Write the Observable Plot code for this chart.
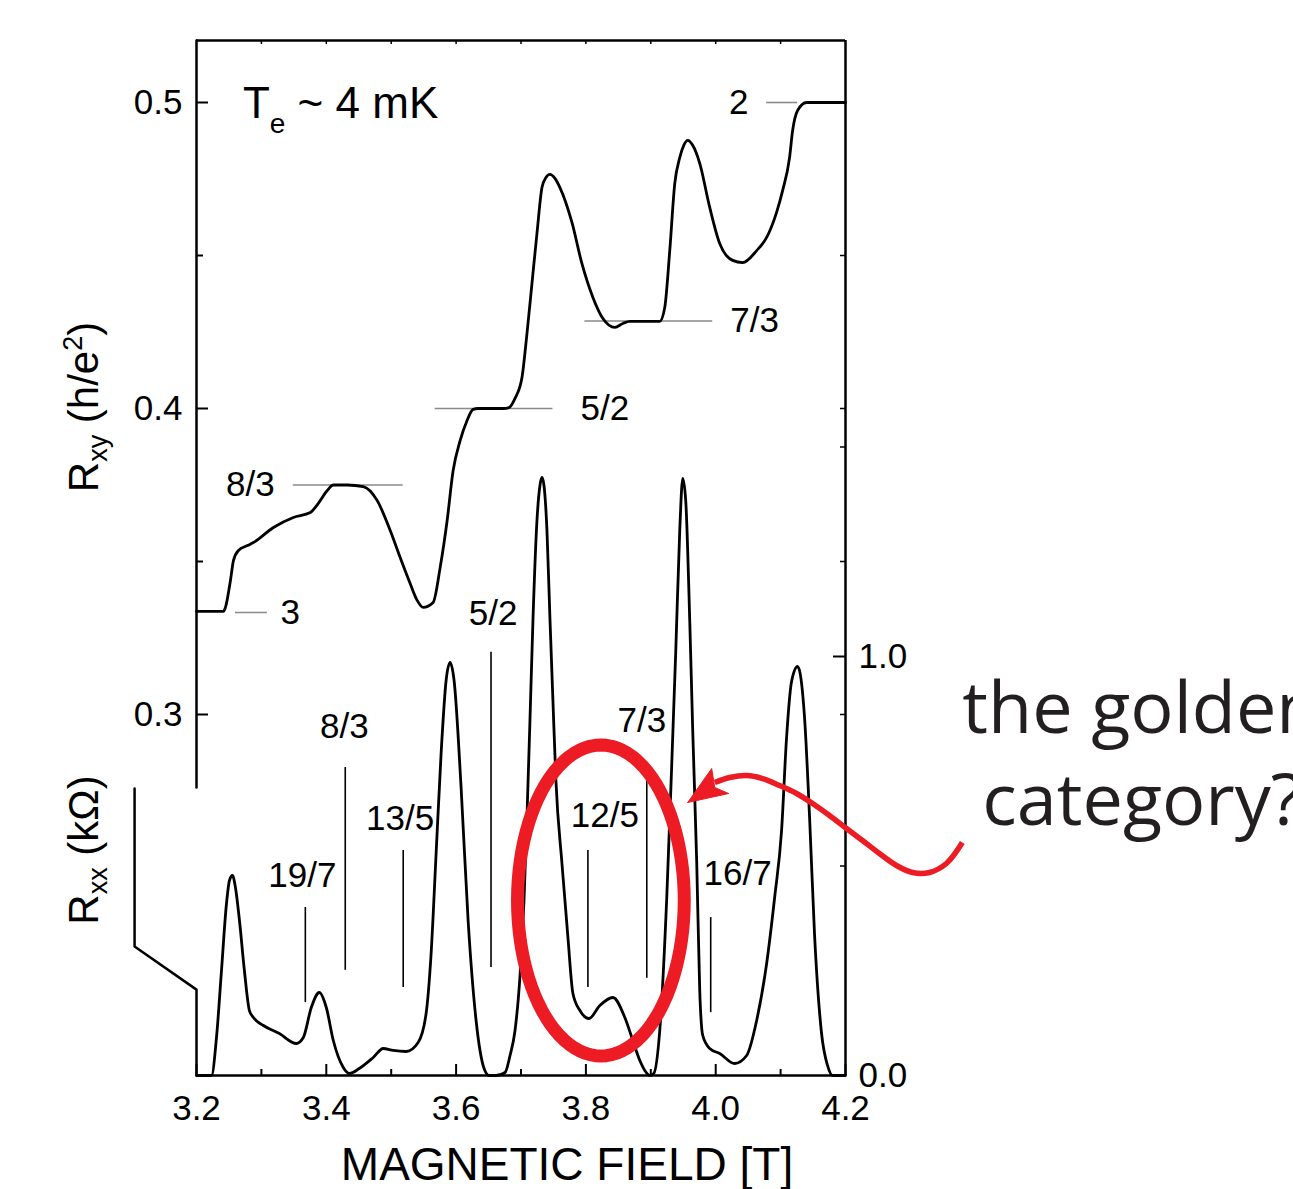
<!DOCTYPE html>
<html><head><meta charset="utf-8">
<script src="https://cdn.jsdelivr.net/npm/d3@7"></script>
<script src="https://cdn.jsdelivr.net/npm/@observablehq/plot@0.6"></script>
<style>html,body{margin:0;padding:0;background:#fff;overflow:hidden}</style>
</head><body><div id="chart"></div>
<script>
// ---------- data ----------
// Hall resistance R_xy (h/e^2) vs magnetic field (T)
const fieldXY = [3.2,3.2415,3.2446,3.2523,3.2569,3.2646,3.2785,3.2877,3.3185,3.3492,3.3754,3.3877,3.4015,3.4108,3.4323,3.4569,3.4785,3.4985,3.5138,3.5292,3.54,3.5492,3.5646,3.5754,3.5862,3.5954,3.6062,3.6169,3.6262,3.6338,3.6723,3.6815,3.6908,3.7015,3.7092,3.7169,3.7246,3.7323,3.7385,3.7446,3.7523,3.76,3.7785,3.7938,3.8108,3.8262,3.8446,3.8569,3.8677,3.9138,3.9215,3.9292,3.9369,3.9446,3.9508,3.9569,3.9646,3.9754,3.9908,4.0062,4.0262,4.0415,4.0631,4.0785,4.0938,4.1031,4.1138,4.1185,4.1262,4.14,4.2];
const rxy = [0.3337,0.3337,0.3350,0.3438,0.3503,0.3536,0.3552,0.3562,0.3611,0.3644,0.3660,0.3690,0.3732,0.3750,0.3750,0.3745,0.3699,0.3601,0.3513,0.3428,0.3373,0.3350,0.3366,0.3480,0.3634,0.3797,0.3895,0.3961,0.3997,0.4000,0.4000,0.4003,0.4033,0.4101,0.4245,0.4409,0.4572,0.4722,0.4755,0.4765,0.4752,0.4722,0.4608,0.4474,0.4363,0.4294,0.4265,0.4278,0.4285,0.4285,0.4330,0.4516,0.4735,0.4820,0.4860,0.4876,0.4860,0.4801,0.4657,0.4539,0.4484,0.4477,0.4516,0.4559,0.4641,0.4712,0.4820,0.4908,0.4974,0.5,0.5];

// Longitudinal resistance R_xx (kOhm) vs magnetic field (T)
const fieldXX = [3.2,3.2231,3.2308,3.2385,3.2462,3.2508,3.2554,3.26,3.2662,3.2738,3.2815,3.2877,3.3031,3.3277,3.3538,3.3646,3.3769,3.3892,3.4,3.4108,3.4262,3.4354,3.4508,3.4723,3.4877,3.5031,3.5231,3.5415,3.5538,3.5615,3.5692,3.5769,3.5846,3.5908,3.5969,3.6077,3.6185,3.6308,3.6431,3.6508,3.6615,3.6754,3.6831,3.6908,3.6985,3.7046,3.7092,3.7138,3.7185,3.7246,3.7292,3.7323,3.7354,3.74,3.7446,3.7492,3.7538,3.7631,3.7723,3.78,3.7908,3.8046,3.8215,3.8415,3.86,3.8708,3.8831,3.8908,3.8985,3.9046,3.9138,3.9246,3.9323,3.9385,3.9446,3.9492,3.9538,3.96,3.9646,3.9708,3.9754,3.98,3.9908,4.0062,4.0292,4.0477,4.0631,4.0785,4.0908,4.1015,4.1092,4.1169,4.1262,4.1369,4.1446,4.1523,4.1631,4.1723,4.18,4.2];
const rxx = [0,0,0.0907,0.2506,0.4105,0.4654,0.4773,0.4487,0.3699,0.2506,0.1551,0.1384,0.1193,0.1002,0.0764,0.0907,0.1623,0.1981,0.1623,0.0835,0.0191,0.0048,0.0167,0.0430,0.0644,0.0597,0.0573,0.0788,0.1480,0.2912,0.5298,0.7685,0.9427,0.9857,0.9427,0.6874,0.3699,0.1313,0.0167,0,0,0.0072,0.0477,0.1074,0.2387,0.4177,0.6181,0.8473,1.0907,1.3246,1.4081,1.4272,1.4081,1.3007,1.0907,0.8950,0.7041,0.5060,0.3294,0.1957,0.1551,0.1360,0.1671,0.1862,0.1384,0.0907,0.0358,0.0119,0,0.0048,0.1074,0.4248,0.7446,1.0143,1.3007,1.4248,1.3723,1.0859,0.8234,0.5060,0.2029,0.0955,0.0644,0.0525,0.0286,0.0477,0.1313,0.2673,0.4248,0.5847,0.8067,0.9403,0.9761,0.8544,0.6181,0.3365,0.1002,0.0239,0,0];

// fractional filling markers on R_xx
const xxFracLabels = ["19/7","8/3","13/5","5/2","12/5","7/3","16/7"];
const xxFracField  = [3.3677,3.4292,3.5185,3.6538,3.8031,3.8938,3.9923];
const xxFracTop    = [0.401,0.735,0.537,1.010,0.537,0.714,0.377];
const xxFracBottom = [0.174,0.251,0.210,0.258,0.210,0.232,0.150];
const xxLabelField = [3.3631,3.4277,3.5138,3.6569,3.8292,3.8862,4.0338];
const xxLabelR     = [0.4773,0.8329,0.6122,1.1026,0.6205,0.8473,0.4821];

// plateau markers on R_xy
const xyFracLabels = ["3","8/3","5/2","7/3","2"];
const xyFracValue  = [1/3,3/8,2/5,3/7,1/2];
const xyDashFrom   = [3.26,3.3492,3.5677,3.7985,4.0785];
const xyDashTo     = [3.3092,3.5185,3.7492,3.9954,4.1262];
const xyLabelField = [3.3446,3.2831,3.8292,4.06,4.0354];

// ticks
const xTickMajor = [3.2,3.4,3.6,3.8,4.0,4.2];
const xTickMinor = [3.3,3.5,3.7,3.9,4.1];
const xTickAll   = [3.3,3.4,3.5,3.6,3.7,3.8,3.9,4.0,4.1];
const yTickMajor = [0.3,0.4,0.5];
const yTickMinor = [0.35,0.45];
const xxTickLabeled = [0,1];
const xxTickMinor = [0.5,1.5];

// annotation (red circle + arrow) in data units
const circle = {field: 3.8231, r: 0.4177, dField: 0.12846, dR: 0.3711};
const arrowField = [4.38,4.3554,4.3292,4.3031,4.2785,4.2523,4.2262,4.2015,4.1754,4.1492,4.1246,4.0985,4.0723,4.0477,4.0215,3.9985];
const arrowR     = [0.5561,0.5060,0.4845,0.4845,0.5012,0.5298,0.5609,0.5895,0.6205,0.6492,0.6730,0.6921,0.7088,0.7160,0.7112,0.6993];
const headField  = [3.9569,3.9938,3.9985,4.02,3.9569];
const headR      = [0.6516,0.7327,0.6874,0.6730,0.6516];

// ---------- layout ----------
const W = 1293, H = 1189;
const mL = 196, mR = 448, mT = 40, mB = 114;
const yBot = 0.5 - 973/3060, yTop = 0.5 + 62/3060;   // R_xy units
const kxx = 419/3060;                                   // 1 kOhm in R_xy units
const Yxx = r => yBot + r * kxx;
const pxY = (yTop - yBot) / (H - mT - mB);
const pxX = 1 / (W - mL - mR);

const xyData = fieldXY.map((b, i) => ({b, y: rxy[i]}));
const xxData = fieldXX.map((b, i) => ({b, y: Yxx(rxx[i])}));
const ellipse = d3.range(0, 97).map(i => {
  const a = i / 96 * 2 * Math.PI;
  return {b: circle.field + circle.dField * Math.cos(a), y: Yxx(circle.r + circle.dR * Math.sin(a))};
});
const arrow = arrowField.map((b, i) => ({b, y: Yxx(arrowR[i])}));
const head = headField.map((b, i) => ({b, y: Yxx(headR[i])}));
const borderUpper = [{b: 3.2, y: yTop}, {b: 3.2, y: 0.27614}];
const borderLower = [{b: 3.1046, y: Yxx(0.685)}, {b: 3.1046, y: Yxx(0.308)}, {b: 3.2, y: Yxx(0.205)}, {b: 3.2, y: yBot}];

const FONT = "'Liberation Sans', Arial, Helvetica, sans-serif";
const RED = "#ed1c24";
const I = (arr) => arr.map((_, i) => i);

const plot = Plot.plot({
  width: W, height: H,
  marginLeft: mL, marginRight: mR, marginTop: mT, marginBottom: mB,
  style: {fontFamily: FONT, background: "white", color: "black"},
  x: {domain: [3.2, 4.2], axis: null},
  y: {domain: [yBot, yTop], axis: null},
  marks: [
    // frame
    Plot.ruleY([yTop], {x1: 3.2, x2: 4.2, strokeWidth: 2.5}),
    Plot.ruleY([yBot], {x1: 3.2, x2: 4.2, strokeWidth: 2.5}),
    Plot.ruleX([4.2], {y1: yBot, y2: yTop, strokeWidth: 2.5}),
    Plot.line(borderUpper, {x: "b", y: "y", strokeWidth: 2.5}),
    Plot.line(borderLower, {x: "b", y: "y", strokeWidth: 2.5}),
    // ticks (inward)
    Plot.ruleX(xTickMajor, {x: d => d, y1: yBot, y2: yBot + 11 * pxY, strokeWidth: 2}),
    Plot.ruleX(xTickMinor, {x: d => d, y1: yBot, y2: yBot + 6 * pxY, strokeWidth: 2}),
    Plot.ruleX(xTickAll, {x: d => d, y1: yTop, y2: yTop - 4 * pxY, strokeWidth: 1.5}),
    Plot.ruleY(yTickMajor, {y: d => d, x1: 3.2, x2: 3.2 + 12 * pxX, strokeWidth: 2}),
    Plot.ruleY(yTickMinor, {y: d => d, x1: 3.2, x2: 3.2 + 7 * pxX, strokeWidth: 2}),
    Plot.ruleY([0.3, 0.35, 0.4, 0.45], {y: d => d, x1: 4.2 - 5 * pxX, x2: 4.2, strokeWidth: 1.5}),
    Plot.ruleY([1], {y: d => Yxx(d), x1: 4.2 - 12 * pxX, x2: 4.2, strokeWidth: 2}),
    Plot.ruleY(xxTickMinor, {y: d => Yxx(d), x1: 4.2 - 5 * pxX, x2: 4.2, strokeWidth: 1.5}),
    // tick labels
    Plot.axisX({ticks: xTickMajor, tickSize: 0, tickPadding: 20, tickFormat: d => d.toFixed(1), fontSize: 35, label: null}),
    Plot.axisY({anchor: "left", ticks: yTickMajor, tickSize: 0, tickPadding: 14, tickFormat: d => d.toFixed(1), fontSize: 35, label: null}),
    Plot.axisY({anchor: "right", ticks: xxTickLabeled.map(Yxx), tickSize: 0, tickPadding: 13,
      tickFormat: d => (Math.round((d - yBot) / kxx * 10) / 10).toFixed(1), fontSize: 35, label: null}),
    // R_xy plateau dashes
    Plot.ruleY(I(xyFracValue), {y: i => xyFracValue[i], x1: i => xyDashFrom[i], x2: i => xyDashTo[i], stroke: "#8a8a8a", strokeWidth: 1.6}),
    // R_xx fraction markers
    Plot.ruleX(I(xxFracField), {x: i => xxFracField[i], y1: i => Yxx(xxFracBottom[i]), y2: i => Yxx(xxFracTop[i]), strokeWidth: 1.6}),
    // curves
    Plot.line(xyData, {x: "b", y: "y", curve: "monotone-x", strokeWidth: 2.8, strokeLinejoin: "round"}),
    Plot.line(xxData, {x: "b", y: "y", curve: "monotone-x", strokeWidth: 2.8, strokeLinejoin: "round"}),
    // labels
    Plot.text(I(xxFracLabels), {x: i => xxLabelField[i], y: i => Yxx(xxLabelR[i]), text: i => xxFracLabels[i], fontSize: 35, fill: "black"}),
    Plot.text(I(xyFracLabels), {x: i => xyLabelField[i], y: i => xyFracValue[i], text: i => xyFracLabels[i], fontSize: 35, fill: "black"}),
    Plot.text(["MAGNETIC FIELD [T]"], {frameAnchor: "bottom", dx: 46, dy: 104, fontSize: 46, fill: "black"}),
    // annotation
    Plot.line(ellipse, {x: "b", y: "y", stroke: RED, strokeWidth: 13, curve: "linear"}),
    Plot.line(arrow, {x: "b", y: "y", stroke: RED, strokeWidth: 5.5, curve: "catmull-rom", strokeLinecap: "butt"}),
    Plot.line(head, {x: "b", y: "y", stroke: RED, fill: RED, strokeWidth: 1}),
    Plot.text(["the golden"], {x: 4.38, y: Yxx(0.8186), textAnchor: "start", lineAnchor: "bottom", fontSize: 72, fontFamily: "'Open Sans', 'Noto Sans', sans-serif", fill: "#231f20"}),
    Plot.text(["category?"], {x: 4.4108, y: Yxx(0.5967), textAnchor: "start", lineAnchor: "bottom", fontSize: 72, fontFamily: "'Open Sans', 'Noto Sans', sans-serif", fill: "#231f20"})
  ]
});

// rich-text titles (subscripts / superscripts)
const svg = d3.select(plot);
const sx = plot.scale("x"), sy = plot.scale("y");
function rich(x, y, rotate, parts, size) {
  const t = svg.append("text")
    .attr("transform", `translate(${x},${y})` + (rotate ? ` rotate(${rotate})` : ""))
    .attr("text-anchor", rotate ? "middle" : "start")
    .attr("font-family", FONT).attr("fill", "black").attr("font-size", size);
  for (const [txt, fs, dy] of parts) t.append("tspan").attr("font-size", fs).attr("dy", dy).text(txt);
}
rich(mL - 98, sy.apply(0.4) - 1, -90,
  [["R", 42, 0], ["xy", 27, 9], ["\u00a0(h/e", 42, -9], ["2", 27, -16], [")", 42, 16]], 42);
rich(mL - 98, 850, -90,
  [["R", 42, 0], ["xx", 27, 9], ["\u00a0(k\u03a9)", 42, -9]], 42);
rich(sx.apply(3.2723), sy.apply(0.5) + 16, 0,
  [["T", 44, 0], ["e", 28, 15], ["\u00a0~ 4 mK", 44, -15]], 44);

document.getElementById("chart").appendChild(plot);
</script>
</body></html>
